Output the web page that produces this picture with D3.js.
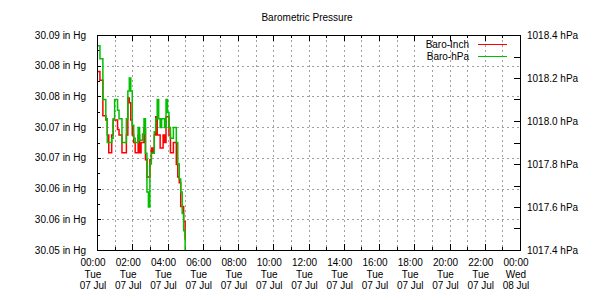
<!DOCTYPE html>
<html>
<head>
<meta charset="utf-8">
<script src="https://cdn.jsdelivr.net/npm/d3@7"></script>
<style>
  body { margin: 0; background: #fff; }
  svg text { font-family: "Liberation Sans", Arial, sans-serif; font-size: 10px; fill: #000; }
</style>
</head>
<body>
<script>
// readings every 5 minutes from 00:00 Tue 07 Jul
const startTime = new Date(2020, 6, 7, 0, 0);
const stepMinutes = 5;
const baroInch = [
  30.0832, 30.0832, 30.0816, 30.0816, 30.0750, 30.0750, 30.0742, 30.0714, 30.0681, 30.0681,
  30.0714, 30.0742, 30.0742, 30.0742, 30.0724, 30.0714, 30.0714, 30.0681, 30.0681, 30.0681,
  30.0714, 30.0783, 30.0774, 30.0742, 30.0714, 30.0700, 30.0681, 30.0681, 30.0714, 30.0681,
  30.0700, 30.0700, 30.0727, 30.0668, 30.0636, 30.0636, 30.0668, 30.0690, 30.0681, 30.0714,
  30.0748, 30.0714, 30.0714, 30.0690, 30.0690, 30.0714, 30.0700, 30.0748, 30.0748, 30.0714,
  30.0681, 30.0681, 30.0700, 30.0700, 30.0659, 30.0636, 30.0625, 30.0581, 30.0581, 30.0553,
  30.0519
];
const baroHpa = [
  1018.35, 1018.35, 1018.29, 1018.29, 1018.10, 1018.10, 1018.01, 1017.90, 1017.90, 1017.90,
  1017.92, 1018.01, 1018.10, 1018.10, 1018.05, 1018.01, 1018.01, 1017.90, 1017.90, 1017.90,
  1018.01, 1018.14, 1018.20, 1018.14, 1017.98, 1017.92, 1017.90, 1017.90, 1017.97, 1017.91,
  1017.91, 1017.94, 1018.01, 1017.85, 1017.67, 1017.60, 1017.80, 1017.85, 1017.85, 1017.95,
  1018.01, 1018.10, 1018.01, 1017.97, 1018.01, 1018.01, 1017.97, 1018.10, 1018.04, 1017.97,
  1017.92, 1017.92, 1017.97, 1017.97, 1017.90, 1017.80, 1017.73, 1017.67, 1017.57, 1017.49,
  1017.40
];
const leftDomain = [30.05, 30.09];
const rightDomain = [1017.4, 1018.4];
const rightTicks = [1017.4, 1017.6, 1017.8, 1018.0, 1018.2, 1018.4];
const seriesNames = ["Baro-Inch", "Baro-hPa"];
const seriesColors = ["#ff0000", "#00c000"];

const width = 610, height = 300;
const m = { left: 97, right: 520, top: 35, bottom: 250 };

const svg = d3.select("body").append("svg")
  .attr("width", width)
  .attr("height", height);

const x = d3.scaleTime()
  .domain([startTime, d3.timeDay.offset(startTime, 1)])
  .range([m.left, m.right]);
const yL = d3.scaleLinear().domain(leftDomain).range([m.bottom, m.top]);
const yR = d3.scaleLinear().domain(rightDomain).range([m.bottom, m.top]);

// left ticks: 7 intervals between the ends
const leftMajor = d3.range(8).map(i => leftDomain[0] + i * (leftDomain[1] - leftDomain[0]) / 7);
const leftMinor = d3.range(7).map(i => leftDomain[0] + (i + 0.5) * (leftDomain[1] - leftDomain[0]) / 7);
const rightMinor = d3.range(5).map(i => rightDomain[0] + (i + 0.5) * 0.2);
const hours = d3.timeHour.range(startTime, d3.timeDay.offset(startTime, 1), 1).slice(1);
const twoHours = d3.timeHour.every(2).range(startTime, d3.timeMinute.offset(d3.timeDay.offset(startTime, 1), 1));

// grid
const grid = svg.append("g")
  .attr("stroke", "#a0a0a0")
  .attr("stroke-width", 1)
  .attr("stroke-dasharray", "2,3");
grid.selectAll(".hg")
  .data(leftMajor.slice(1, -1))
  .join("line")
  .attr("x1", m.left).attr("x2", m.right)
  .attr("y1", d => Math.round(yL(d)) + 0.5)
  .attr("y2", d => Math.round(yL(d)) + 0.5);
grid.selectAll(".vg")
  .data(hours)
  .join("line")
  .attr("x1", d => Math.round(x(d)) + 0.5)
  .attr("x2", d => Math.round(x(d)) + 0.5)
  .attr("y1", m.top).attr("y2", m.bottom);

// ticks
const ticks = svg.append("g").attr("stroke", "#000").attr("stroke-width", 1);
function hTicks(vals, scale, x0, len) {
  ticks.append("g").selectAll("line")
    .data(vals)
    .join("line")
    .attr("x1", x0).attr("x2", x0 + len)
    .attr("y1", d => Math.round(scale(d)) + 0.5)
    .attr("y2", d => Math.round(scale(d)) + 0.5);
}
hTicks(leftMajor, yL, m.left, 4);
hTicks(leftMinor, yL, m.left, 3);
hTicks(rightTicks, yR, m.right, -6);
hTicks(rightMinor, yR, m.right, -6);
ticks.append("g").selectAll("line")
  .data(hours)
  .join(enter => {
    const g = enter.append("g");
    const len = d => (d.getHours() % 2 === 0 ? 6 : 3);
    g.append("line")
      .attr("x1", d => Math.round(x(d)) + 0.5).attr("x2", d => Math.round(x(d)) + 0.5)
      .attr("y1", m.top).attr("y2", d => m.top + len(d));
    g.append("line")
      .attr("x1", d => Math.round(x(d)) + 0.5).attr("x2", d => Math.round(x(d)) + 0.5)
      .attr("y1", m.bottom).attr("y2", d => m.bottom - len(d));
    return g;
  });

// lines
const times = baroInch.map((d, i) => d3.timeMinute.offset(startTime, i * stepMinutes));
const lineL = d3.line().x((d, i) => x(times[i])).y(d => yL(d)).curve(d3.curveStepAfter);
const lineR = d3.line().x((d, i) => x(times[i])).y(d => yR(d)).curve(d3.curveStepAfter);
svg.append("defs").append("clipPath").attr("id", "clip")
  .append("rect").attr("x", m.left).attr("y", m.top)
  .attr("width", m.right - m.left).attr("height", m.bottom - m.top);
const plotG = svg.append("g").attr("clip-path", "url(#clip)");
plotG.append("path").datum(baroInch)
  .attr("d", lineL).attr("fill", "none")
  .attr("stroke", seriesColors[0]).attr("stroke-width", 1.5);
plotG.append("path").datum(baroHpa)
  .attr("d", lineR).attr("fill", "none")
  .attr("stroke", seriesColors[1]).attr("stroke-width", 1.5);

// frame
svg.append("rect")
  .attr("x", m.left + 0.5).attr("y", m.top + 0.5)
  .attr("width", m.right - m.left).attr("height", m.bottom - m.top)
  .attr("fill", "none").attr("stroke", "#000");

// tick labels
const fmtL = d3.format(".2f"), fmtR = d3.format(".1f");
svg.append("g").selectAll("text")
  .data(leftMajor)
  .join("text")
  .attr("x", 86).attr("y", d => yL(d)).attr("dy", "0.35em")
  .attr("text-anchor", "end")
  .text(d => fmtL(d) + " in Hg");
svg.append("g").selectAll("text")
  .data(rightTicks)
  .join("text")
  .attr("x", 527).attr("y", d => yR(d)).attr("dy", "0.35em")
  .text(d => fmtR(d) + " hPa");
const fmtH = d3.timeFormat("%H:%M"), fmtD = d3.timeFormat("%a"), fmtDM = d3.timeFormat("%d %b");
const xl = svg.append("g").selectAll("text")
  .data(twoHours)
  .join("text")
  .attr("text-anchor", "middle")
  .attr("x", d => x(d) - 4);
xl.append("tspan").attr("x", d => x(d) - 4).attr("y", 266).text(d => fmtH(d));
xl.append("tspan").attr("x", d => x(d) - 4).attr("y", 277.5).text(d => fmtD(d));
xl.append("tspan").attr("x", d => x(d) - 4).attr("y", 289).text(d => fmtDM(d));

// title
svg.append("text")
  .attr("x", 307).attr("y", 21)
  .attr("text-anchor", "middle")
  .text("Barometric Pressure");

// legend
const leg = svg.append("g").selectAll("g")
  .data(seriesNames)
  .join("g")
  .attr("transform", (d, i) => `translate(0,${44 + i * 12})`);
leg.append("text")
  .attr("x", 469).attr("dy", "0.35em")
  .attr("text-anchor", "end")
  .text(d => d);
leg.append("line")
  .attr("x1", 478).attr("x2", 507)
  .attr("y1", 0.5).attr("y2", 0.5)
  .attr("stroke", (d, i) => seriesColors[i])
  .attr("stroke-width", 1);
</script>
</body>
</html>
